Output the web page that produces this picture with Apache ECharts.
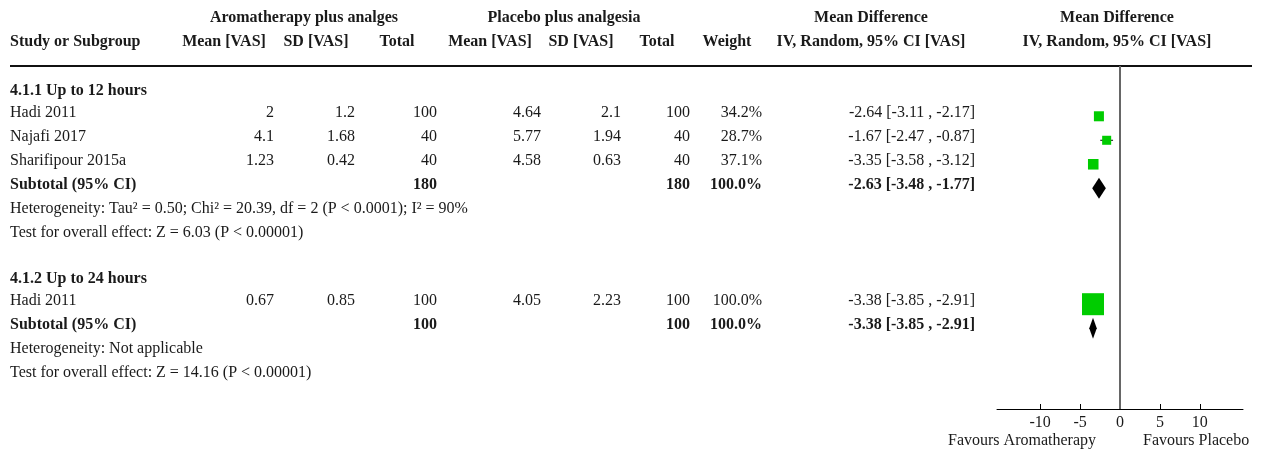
<!DOCTYPE html>
<html>
<head>
<meta charset="utf-8">
<script src="https://cdn.jsdelivr.net/npm/echarts@6/dist/echarts.min.js"></script>
<style>
  html, body { margin: 0; padding: 0; background: #fff; }
  #chart { width: 1268px; height: 450px; }
</style>
</head>
<body>
<div id="chart"></div>
<script>
// ---- Study data ----
const studyNames = ['Hadi 2011', 'Najafi 2017', 'Sharifipour 2015a', 'Hadi 2011'];
const studyGroup = [0, 0, 0, 1];
const expMean = [2, 4.1, 1.23, 0.67];
const expSD = [1.2, 1.68, 0.42, 0.85];
const expTotal = [100, 40, 40, 100];
const ctlMean = [4.64, 5.77, 4.58, 4.05];
const ctlSD = [2.1, 1.94, 0.63, 2.23];
const ctlTotal = [100, 40, 40, 100];
const studyWeight = [34.2, 28.7, 37.1, 100.0];
const studyMD = [-2.64, -1.67, -3.35, -3.38];
const studyLow = [-3.11, -2.47, -3.58, -3.85];
const studyHigh = [-2.17, -0.87, -3.12, -2.91];

// ---- Subgroup data ----
const groupNames = ['4.1.1 Up to 12 hours', '4.1.2 Up to 24 hours'];
const groupExpTotal = [180, 100];
const groupCtlTotal = [180, 100];
const groupWeight = [100.0, 100.0];
const groupMD = [-2.63, -3.38];
const groupLow = [-3.48, -3.85];
const groupHigh = [-1.77, -2.91];
const groupHeterogeneity = [
  'Heterogeneity: Tau\u00b2 = 0.50; Chi\u00b2 = 20.39, df = 2 (P < 0.0001); I\u00b2 = 90%',
  'Heterogeneity: Not applicable'
];
const groupOverall = [
  'Test for overall effect: Z = 6.03 (P < 0.00001)',
  'Test for overall effect: Z = 14.16 (P < 0.00001)'
];

// ---- Axis ----
const xTicks = [-10, -5, 0, 5, 10];
const favourLeft = 'Favours Aromatherapy';
const favourRight = 'Favours Placebo';

// ---- Layout ----
const FONT = "'Liberation Serif', 'Times New Roman', serif";
const TXT = '#1a1a1a';
const groupStartRow = [0, 7.83];
const headerNudge = 0.08;  // subgroup titles sit a little closer to their first study
const markOffset = 0.22;   // marks sit slightly below the text row
const textDy = 2;          // visual centring of 16px serif text

// row index of every table line
const studyRow = [];
const groupRow = [];
groupNames.forEach((g, gi) => {
  let r = groupStartRow[gi] + 1;
  studyNames.forEach((s, i) => { if (studyGroup[i] === gi) { studyRow[i] = r; r += 1; } });
  groupRow[gi] = { header: groupStartRow[gi] + headerNudge, subtotal: r, het: r + 1, overall: r + 2 };
});

const fmt2 = v => v.toFixed(2);
const ciText = (m, lo, hi) => fmt2(m) + ' [' + fmt2(lo) + ' , ' + fmt2(hi) + ']';

const chart = echarts.init(document.getElementById('chart'), null, { renderer: 'canvas' });

chart.setOption({
  animation: false,
  backgroundColor: '#fff',
  grid: { left: 997, width: 246, top: 66, height: 343, containLabel: false },
  xAxis: {
    type: 'value',
    min: -15.4,
    max: 15.4,
    axisLine: { show: true, onZero: false, lineStyle: { color: '#000', width: 1 } },
    axisTick: { show: true, inside: true, length: 5, customValues: xTicks, lineStyle: { color: '#000' } },
    axisLabel: { customValues: xTicks, margin: 6, fontFamily: FONT, fontSize: 16, color: TXT },
    splitLine: { show: false }
  },
  yAxis: {
    type: 'value',
    inverse: true,
    min: -0.875,
    max: 13.4167,
    show: false
  },
  series: [
    {
      // confidence interval whiskers
      type: 'custom',
      z: 2,
      data: studyNames.map((s, i) => [studyLow[i], studyHigh[i], studyRow[i] + markOffset]),
      encode: { x: [0, 1], y: 2 },
      renderItem: (params, api) => {
        const a = api.coord([api.value(0), api.value(2)]);
        const b = api.coord([api.value(1), api.value(2)]);
        return { type: 'line', shape: { x1: a[0], y1: a[1], x2: b[0], y2: b[1] },
                 style: { stroke: '#000', lineWidth: 1 } };
      }
    },
    {
      // study point estimates, sized by weight
      type: 'scatter',
      z: 3,
      symbol: 'rect',
      symbolSize: v => 3.8 + 0.182 * v[2],
      itemStyle: { color: '#00cc00', opacity: 1 },
      data: studyNames.map((s, i) => [studyMD[i], studyRow[i] + markOffset, studyWeight[i]]),
      markLine: {
        silent: true,
        symbol: 'none',
        label: { show: false },
        lineStyle: { color: '#666', width: 2, type: 'solid' },
        data: [{ xAxis: 0 }]
      }
    },
    {
      // subtotal diamonds
      type: 'custom',
      z: 3,
      data: groupNames.map((g, gi) => [groupMD[gi], groupLow[gi], groupHigh[gi], groupRow[gi].subtotal + markOffset]),
      encode: { x: [0, 1, 2], y: 3 },
      renderItem: (params, api) => {
        const c = api.coord([api.value(0), api.value(3)]);
        const l = api.coord([api.value(1), api.value(3)]);
        const r = api.coord([api.value(2), api.value(3)]);
        const h = 10.5;
        return { type: 'polygon',
                 shape: { points: [[l[0], c[1]], [c[0], c[1] - h], [r[0], c[1]], [c[0], c[1] + h]] },
                 style: { fill: '#000' } };
      }
    }
  ]
});

// ---- Table text, placed on the same row scale ----
const rowY = r => chart.convertToPixel({ yAxisIndex: 0 }, r);
const zeroX = chart.convertToPixel({ xAxisIndex: 0 }, 0);
const axisY = chart.convertToPixel({ yAxisIndex: 0 }, 13.4167);

const graphics = [];
function txt(x, y, text, align, bold) {
  graphics.push({
    type: 'text', x: x, y: y + textDy, silent: true,
    style: { text: String(text), fill: TXT, font: (bold ? 'bold ' : '') + '16px ' + FONT,
             textAlign: align || 'left', textVerticalAlign: 'middle' }
  });
}

// column anchors (right edges for numeric columns)
const colX = { label: 10, expMean: 274, expSD: 355, expN: 437, ctlMean: 541, ctlSD: 621, ctlN: 690, weight: 762, md: 975 };

// header
const h1 = 16, h2 = 40;
txt(304, h1, 'Aromatherapy plus analges', 'center', true);
txt(564, h1, 'Placebo plus analgesia', 'center', true);
txt(871, h1, 'Mean Difference', 'center', true);
txt(1117, h1, 'Mean Difference', 'center', true);
txt(10, h2, 'Study or Subgroup', 'left', true);
txt(224, h2, 'Mean [VAS]', 'center', true);
txt(316, h2, 'SD [VAS]', 'center', true);
txt(397, h2, 'Total', 'center', true);
txt(490, h2, 'Mean [VAS]', 'center', true);
txt(581, h2, 'SD [VAS]', 'center', true);
txt(657, h2, 'Total', 'center', true);
txt(727, h2, 'Weight', 'center', true);
txt(871, h2, 'IV, Random, 95% CI [VAS]', 'center', true);
txt(1117, h2, 'IV, Random, 95% CI [VAS]', 'center', true);

graphics.push({
  type: 'line', silent: true,
  shape: { x1: 10, y1: 66, x2: 1252, y2: 66 },
  style: { stroke: '#111', lineWidth: 2 }
});

// study rows
studyNames.forEach((s, i) => {
  const y = rowY(studyRow[i]);
  txt(colX.label, y, s, 'left');
  txt(colX.expMean, y, expMean[i], 'right');
  txt(colX.expSD, y, expSD[i], 'right');
  txt(colX.expN, y, expTotal[i], 'right');
  txt(colX.ctlMean, y, ctlMean[i], 'right');
  txt(colX.ctlSD, y, ctlSD[i], 'right');
  txt(colX.ctlN, y, ctlTotal[i], 'right');
  txt(colX.weight, y, studyWeight[i].toFixed(1) + '%', 'right');
  txt(colX.md, y, ciText(studyMD[i], studyLow[i], studyHigh[i]), 'right');
});

// subgroup rows
groupNames.forEach((g, gi) => {
  const R = groupRow[gi];
  txt(colX.label, rowY(R.header), g, 'left', true);
  const ys = rowY(R.subtotal);
  txt(colX.label, ys, 'Subtotal (95% CI)', 'left', true);
  txt(colX.expN, ys, groupExpTotal[gi], 'right', true);
  txt(colX.ctlN, ys, groupCtlTotal[gi], 'right', true);
  txt(colX.weight, ys, groupWeight[gi].toFixed(1) + '%', 'right', true);
  txt(colX.md, ys, ciText(groupMD[gi], groupLow[gi], groupHigh[gi]), 'right', true);
  txt(colX.label, rowY(R.het), groupHeterogeneity[gi], 'left');
  txt(colX.label, rowY(R.overall), groupOverall[gi], 'left');
});

// favours labels under the axis
txt(zeroX - 24, axisY + 30, favourLeft, 'right');
txt(zeroX + 23, axisY + 30, favourRight, 'left');

chart.setOption({ graphic: graphics });
</script>
</body>
</html>
